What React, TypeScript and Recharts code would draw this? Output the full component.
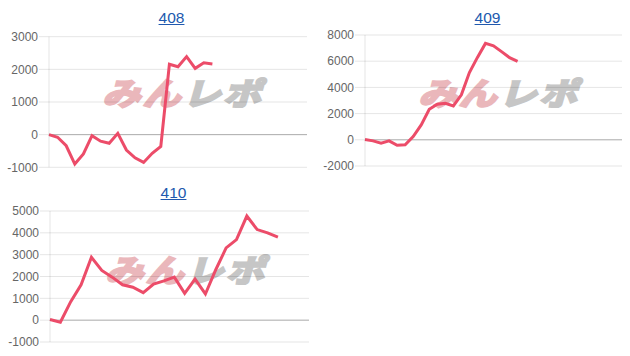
import React from 'react';
import { LineChart, Line, XAxis, YAxis, CartesianGrid, ReferenceLine } from 'recharts';

// x categories (labels are hidden on the chart)
const labels408 = ['1', '2', '3', '4', '5', '6', '7', '8', '9', '10', '11', '12', '13', '14', '15', '16', '17', '18', '19', '20', '21', '22', '23', '24', '25', '26', '27', '28', '29', '30', '31'];
const labels409 = ['1', '2', '3', '4', '5', '6', '7', '8', '9', '10', '11', '12', '13', '14', '15', '16', '17', '18', '19', '20', '21', '22', '23', '24', '25', '26', '27', '28', '29', '30', '31', '32', '33'];
const labels410 = ['1', '2', '3', '4', '5', '6', '7', '8', '9', '10', '11', '12', '13', '14', '15', '16', '17', '18', '19', '20', '21', '22', '23', '24', '25', '26'];

const values408 = [0, -80, -340, -900, -590, -30, -200, -265, 40, -470, -710, -850, -570, -360, 2155, 2080, 2390, 2030, 2200, 2165];
const values409 = [30, -80, -250, -80, -420, -380, 250, 1140, 2330, 2720, 2790, 2590, 3430, 5130, 6290, 7360, 7180, 6730, 6270, 5990];
const values410 = [30, -90, 850, 1620, 2880, 2280, 1970, 1620, 1510, 1260, 1650, 1800, 1970, 1230, 1880, 1200, 2310, 3310, 3690, 4770, 4150, 4000, 3800];

const ticks408 = [-1000, 0, 1000, 2000, 3000];
const ticks409 = [-2000, 0, 2000, 4000, 6000, 8000];
const ticks410 = [-1000, 0, 1000, 2000, 3000, 4000, 5000];

const LINE = '#ec4c69';
const GRID = 'rgba(0,0,0,0.1)';
const ZERO = 'rgba(0,0,0,0.25)';
const FONT = '"Liberation Sans", Arial, Helvetica, sans-serif';

const toRows = (labels: string[], values: number[]) =>
    labels.map((label, i) => ({ label, value: i < values.length ? values[i] : null }));

interface Panel {
    title: string;
    labels: string[];
    values: number[];
    ticks: number[];
    left: number;
    top: number;
    height: number;
    margin: { top: number; right: number; bottom: number; left: number };
    axisWidth: number;
    titleX: number;
    titleY: number;
    markX: number;
    markY: number;
}

const panels: Panel[] = [
    {
        title: '408', labels: labels408, values: values408, ticks: ticks408,
        left: 0, top: 0, height: 180, margin: { top: 36.7, right: 8, bottom: 12.7, left: 0 }, axisWidth: 49,
        titleX: 171.5, titleY: 18, markX: 111, markY: 75,
    },
    {
        title: '409', labels: labels409, values: values409, ticks: ticks409,
        left: 315, top: 0, height: 180, margin: { top: 35, right: 8, bottom: 14, left: 0 }, axisWidth: 50,
        titleX: 172.5, titleY: 17.5, markX: 112, markY: 75,
    },
    {
        title: '410', labels: labels410, values: values410, ticks: ticks410,
        left: 0, top: 180, height: 176, margin: { top: 31, right: 6, bottom: 14, left: 0 }, axisWidth: 50,
        titleX: 173.5, titleY: 13, markX: 114, markY: 72,
    },
];

const Watermark: React.FC<{ x: number; y: number }> = ({ x, y }) => (
    <div
        style={{
            position: 'absolute', left: x, top: y, whiteSpace: 'nowrap',
            fontFamily: '"Noto Sans CJK JP"', fontWeight: 700, fontSize: 31, lineHeight: '34px',
            transform: 'skewX(-16deg) scaleX(1.22)', transformOrigin: 'left top', letterSpacing: 2,
        }}
    >
        <span style={{ color: '#eab7bb', WebkitTextStroke: '2.5px #eab7bb' }}>みん</span>
        <span style={{ color: '#c6c6c6', WebkitTextStroke: '2.5px #c6c6c6' }}>レポ</span>
    </div>
);

const ChartPanel: React.FC<{ p: Panel }> = ({ p }) => (
    <div style={{ position: 'absolute', left: p.left, top: p.top, width: 315, height: p.height }}>
        <Watermark x={p.markX} y={p.markY} />
        <div
            style={{
                position: 'absolute', left: p.titleX - 40, width: 80, top: p.titleY - 10, textAlign: 'center',
                fontFamily: FONT, fontSize: 15.5, lineHeight: '20px', color: '#2159ae', textDecoration: 'underline',
            }}
        >
            {p.title}
        </div>
        <div style={{ position: 'absolute', left: 0, top: 0 }}>
            <LineChart width={315} height={p.height} data={toRows(p.labels, p.values)} margin={p.margin}>
                <CartesianGrid vertical={false} stroke={GRID} />
                <XAxis dataKey="label" hide />
                <YAxis
                    width={p.axisWidth}
                    domain={[p.ticks[0], p.ticks[p.ticks.length - 1]]}
                    ticks={p.ticks}
                    interval={0}
                    tickSize={10}
                    tickMargin={1}
                    axisLine={{ stroke: GRID }}
                    tickLine={{ stroke: GRID }}
                    tick={{ fill: '#666', fontSize: 12, fontFamily: FONT }}
                />
                <ReferenceLine y={0} stroke={ZERO} />
                <Line
                    type="linear"
                    dataKey="value"
                    stroke={LINE}
                    strokeWidth={3}
                    dot={false}
                    connectNulls={false}
                    isAnimationActive={false}
                />
            </LineChart>
        </div>
    </div>
);

export default function App() {
    return (
        <div style={{ position: 'absolute', left: 0, top: 0, width: 630, height: 356, background: '#fff', overflow: 'hidden' }}>
            {panels.map((p) => (
                <ChartPanel key={p.title} p={p} />
            ))}
        </div>
    );
}
